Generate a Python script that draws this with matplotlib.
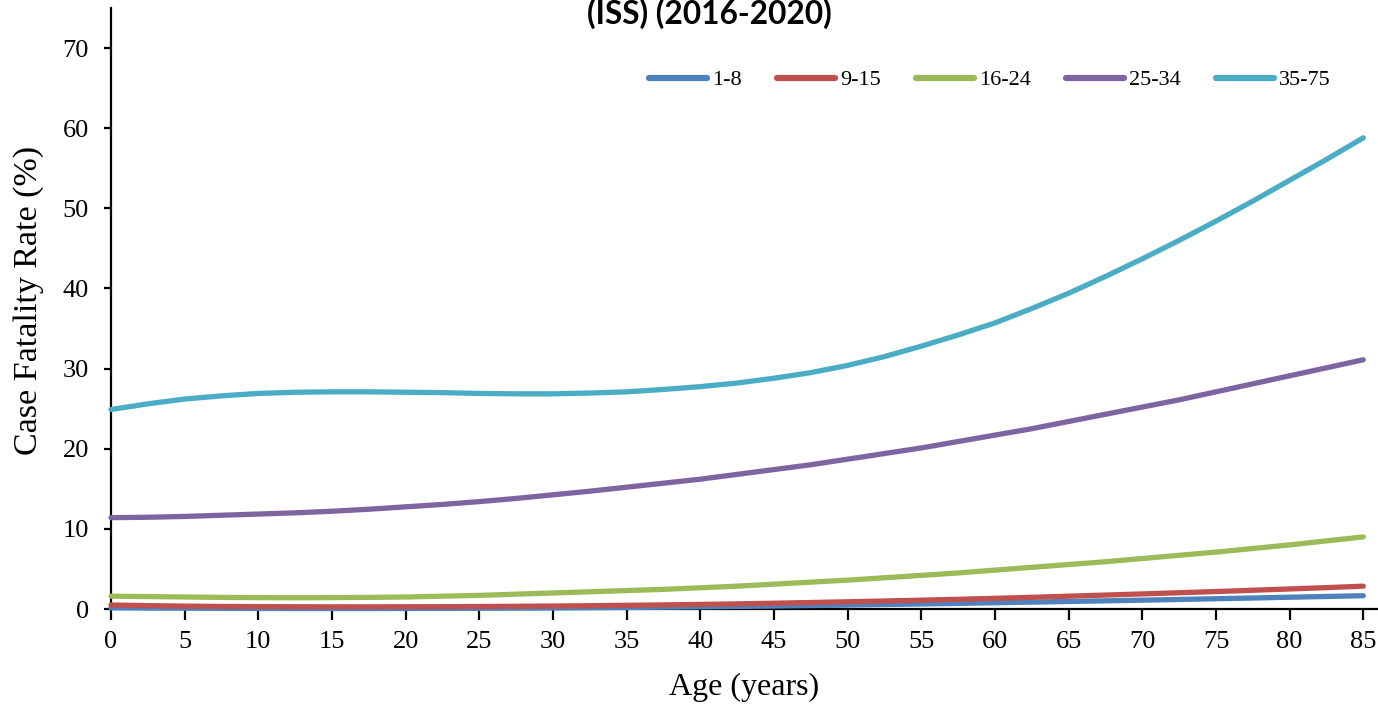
import matplotlib
matplotlib.use("Agg")
import matplotlib.pyplot as plt

ages = [0, 2.5, 5, 7.5, 10, 12.5, 15, 17.5, 20, 22.5, 25, 27.5, 30, 32.5, 35, 37.5, 40, 42.5,
        45, 47.5, 50, 52.5, 55, 57.5, 60, 62.5, 65, 67.5, 70, 72.5, 75, 77.5, 80, 82.5, 85]

iss_1_8 = [0.15, 0.12, 0.10, 0.08, 0.07, 0.06, 0.06, 0.06, 0.07, 0.08, 0.09, 0.11, 0.13, 0.16,
           0.19, 0.23, 0.27, 0.32, 0.37, 0.43, 0.49, 0.56, 0.63, 0.70, 0.78, 0.86, 0.94, 1.02,
           1.10, 1.19, 1.28, 1.37, 1.47, 1.56, 1.66]
iss_9_15 = [0.50, 0.42, 0.36, 0.32, 0.30, 0.28, 0.27, 0.27, 0.28, 0.29, 0.31, 0.34, 0.37, 0.41,
            0.46, 0.51, 0.57, 0.64, 0.72, 0.81, 0.90, 1.00, 1.10, 1.21, 1.33, 1.46, 1.60, 1.74,
            1.88, 2.03, 2.18, 2.34, 2.50, 2.67, 2.85]
iss_16_24 = [1.60, 1.55, 1.50, 1.45, 1.42, 1.40, 1.42, 1.45, 1.50, 1.60, 1.70, 1.85, 2.00, 2.15,
             2.30, 2.45, 2.65, 2.85, 3.10, 3.35, 3.60, 3.90, 4.20, 4.50, 4.85, 5.20, 5.55, 5.90,
             6.30, 6.70, 7.10, 7.55, 8.00, 8.50, 9.00]
iss_25_34 = [11.40, 11.45, 11.55, 11.70, 11.85, 12.00, 12.20, 12.45, 12.75, 13.05, 13.40, 13.80,
             14.25, 14.70, 15.20, 15.70, 16.20, 16.80, 17.40, 18.00, 18.70, 19.40, 20.10, 20.90,
             21.70, 22.50, 23.40, 24.30, 25.20, 26.10, 27.10, 28.10, 29.10, 30.10, 31.10]
iss_35_75 = [24.90, 25.60, 26.20, 26.60, 26.90, 27.05, 27.10, 27.10, 27.05, 27.00, 26.90, 26.85,
             26.85, 26.95, 27.10, 27.40, 27.75, 28.20, 28.80, 29.50, 30.40, 31.50, 32.80, 34.20,
             35.70, 37.50, 39.40, 41.50, 43.70, 46.00, 48.40, 50.90, 53.50, 56.10, 58.80]

labels = ["1-8", "9-15", "16-24", "25-34", "35-75"]
colors = ["#4F81BD", "#C0504D", "#9BBB59", "#8064A2", "#4BACC6"]
series = [iss_1_8, iss_9_15, iss_16_24, iss_25_34, iss_35_75]

x_ticks = list(range(0, 86, 5))
y_ticks = list(range(0, 71, 10))

serif = ["Liberation Serif", "DejaVu Serif"]

W, H = 1378, 711
fig = plt.figure(figsize=(W / 100, H / 100), dpi=100)
ax = fig.add_axes([111 / W, 1 - 609 / H, (W - 111) / W, (609 - 8) / H])

for vals, lab, col in zip(series, labels, colors):
    ax.plot(ages, vals, color=col, lw=3.8, label=lab, solid_capstyle="round",
            solid_joinstyle="round", clip_on=False, zorder=3)

ax.set_xlim(0, 86)
ax.set_ylim(0, 75)
ax.set_xticks(x_ticks)
ax.set_yticks(y_ticks)
for s in ["top", "right"]:
    ax.spines[s].set_visible(False)
for s in ["left", "bottom"]:
    ax.spines[s].set_linewidth(1.6)
    ax.spines[s].set_color("black")
ax.tick_params(axis="x", direction="out", length=8, width=1.6, labelsize=19, pad=8)
ax.tick_params(axis="y", direction="out", length=5, width=1.6, labelsize=19, pad=11)
for t in ax.get_xticklabels() + ax.get_yticklabels():
    t.set_fontfamily(serif)

ax.set_xlabel("Age (years)", fontsize=23, family=serif, labelpad=14)
ax.set_ylabel("Case Fatality Rate (%)", fontsize=24.5, family=serif, labelpad=13)
ax.yaxis.label.set_y(0.513)

leg = ax.legend(loc="upper left", bbox_to_anchor=(0.4177, 1 - (61 - 8) / (609 - 8)),
                bbox_transform=ax.transAxes, ncol=5, frameon=False,
                prop={"family": serif, "size": 16}, handlelength=2.6,
                handletextpad=0.25, columnspacing=1.57, borderaxespad=0)
for h in leg.get_lines():
    h.set_linewidth(4.5)

fig.text(709 / W, 1 - 24 / H, "(ISS) (2016-2020)", ha="center", va="baseline",
         fontsize=22.8, fontweight="bold", family=["Lato", "DejaVu Sans"])

fig.savefig("out.png", dpi=100)
